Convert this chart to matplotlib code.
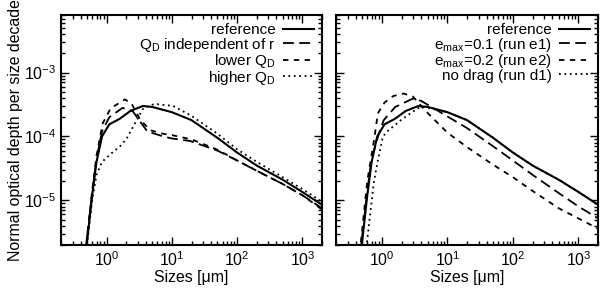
import numpy as np
import matplotlib
matplotlib.use("Agg")
import matplotlib.pyplot as plt

plt.rcParams['font.family'] = ['Liberation Sans', 'DejaVu Sans']
plt.rcParams['mathtext.fontset'] = 'custom'
plt.rcParams['mathtext.rm'] = 'Liberation Sans'
plt.rcParams['mathtext.it'] = 'Liberation Sans:italic'
plt.rcParams['font.size'] = 11.4

# ---- data: sizes [um], optical depth per size decade ----
ref_x = [0.48, 0.6, 0.7, 0.85, 1.1, 1.6, 2.3, 3.6, 5, 10, 20, 50, 100, 200, 500, 1000, 2000]
ref_y = [1.5e-6, 1.2e-5, 4e-5, 1.0e-4, 1.55e-4, 1.9e-4, 2.5e-4, 3.0e-4, 2.9e-4, 2.4e-4,
         1.8e-4, 9.5e-5, 5.6e-5, 3.5e-5, 2.1e-5, 1.35e-5, 8.5e-6]

qind_x = [0.47, 0.6, 0.7, 0.85, 1.1, 1.75, 2.5, 4.2, 7.4, 10, 19, 50, 100, 200, 500, 1000, 2000]
qind_y = [1.5e-6, 1.3e-5, 4.5e-5, 1.2e-4, 2.0e-4, 2.8e-4, 2.5e-4, 1.2e-4, 1.0e-4, 9.3e-5,
          8.5e-5, 6.0e-5, 4.2e-5, 2.9e-5, 1.8e-5, 1.2e-5, 7.5e-6]

qlow_x = [0.47, 0.6, 0.7, 0.87, 1.15, 1.9, 2.4, 3.3, 4.7, 7.4, 10, 20, 50, 100, 200, 500, 1000, 2000]
qlow_y = [1.5e-6, 1.4e-5, 5e-5, 1.6e-4, 2.75e-4, 3.8e-4, 3.3e-4, 1.8e-4, 1.25e-4, 1.1e-4,
          1.05e-4, 9.0e-5, 6.2e-5, 4.2e-5, 2.9e-5, 1.8e-5, 1.2e-5, 7.2e-6]

qhigh_x = [0.5, 0.6, 0.7, 0.85, 1.2, 1.6, 2.0, 2.8, 3.6, 5, 6, 10.5, 20, 50, 100, 200, 500, 1000, 2000]
qhigh_y = [2e-6, 1.0e-5, 2.5e-5, 4e-5, 5.5e-5, 7e-5, 9e-5, 1.7e-4, 2.7e-4, 3.15e-4, 3.2e-4,
           3.0e-4, 2.1e-4, 1.1e-4, 6.3e-5, 4.0e-5, 2.3e-5, 1.5e-5, 9.5e-6]

e1_x = [0.47, 0.6, 0.7, 0.9, 1.07, 1.6, 2.95, 4, 10.5, 20, 50, 100, 200, 500, 1000, 2000]
e1_y = [1.5e-6, 1.4e-5, 4.5e-5, 1.1e-4, 1.8e-4, 2.9e-4, 3.9e-4, 3.6e-4, 2.0e-4, 1.35e-4,
        7.0e-5, 4.2e-5, 2.5e-5, 1.3e-5, 8.0e-6, 5.2e-6]

e2_x = [0.46, 0.6, 0.76, 0.87, 1.1, 1.5, 2.15, 3, 4.5, 10, 20, 50, 100, 200, 500, 1000, 2000]
e2_y = [1.5e-6, 2.0e-5, 8.7e-5, 2.3e-4, 3.4e-4, 4.3e-4, 4.7e-4, 4.2e-4, 2.6e-4, 1.15e-4,
        6.8e-5, 3.6e-5, 2.3e-5, 1.4e-5, 7.5e-6, 5.2e-6, 3.6e-6]

d1_x = [0.57, 0.63, 0.76, 0.87, 1.03, 1.15, 1.95, 3.5, 4.4, 10, 20, 50, 100, 200, 500, 1000, 2000]
d1_y = [1.5e-6, 3.8e-6, 2e-5, 4.2e-5, 9.6e-5, 1.15e-4, 1.8e-4, 2.75e-4, 2.9e-4, 2.4e-4,
        1.8e-4, 9.5e-5, 5.6e-5, 3.5e-5, 2.1e-5, 1.35e-5, 8.5e-6]

left_labels = ['reference', r'Q$_\mathrm{D}$ independent of r',
               r'lower Q$_\mathrm{D}$', r'higher Q$_\mathrm{D}$']
right_labels = ['reference', r'e$_\mathrm{max}$=0.1 (run e1)',
                r'e$_\mathrm{max}$=0.2 (run e2)', 'no drag (run d1)']

styles = [dict(ls='-', lw=1.5),
          dict(ls=(0, (6, 3)), lw=1.3),
          dict(ls=(0, (3, 3)), lw=1.3),
          dict(ls=(0, (1, 2)), lw=1.3)]

fig = plt.figure(figsize=(6.0, 2.93), dpi=100)
ax1 = fig.add_axes([0.1017, 0.164, 0.435, 0.785])
ax2 = fig.add_axes([0.56, 0.164, 0.437, 0.785])

left_data = [(ref_x, ref_y), (qind_x, qind_y), (qlow_x, qlow_y), (qhigh_x, qhigh_y)]
right_data = [(ref_x, ref_y), (e1_x, e1_y), (e2_x, e2_y), (d1_x, d1_y)]

for ax, data, labels in [(ax1, left_data, left_labels), (ax2, right_data, right_labels)]:
    for (x, y), lab, st in zip(data, labels, styles):
        ax.plot(x, y, color='black', label=lab, **st)
    ax.set_xscale('log')
    ax.set_yscale('log')
    ax.set_xlim(0.2, 2000)
    ax.set_ylim(2e-6, 8e-3)
    ax.tick_params(which='both', direction='in', top=True, right=True, width=1)
    ax.tick_params(which='major', length=6)
    ax.tick_params(which='minor', length=3)
    for sp in ax.spines.values():
        sp.set_linewidth(1.5)
    ax.set_xlabel('Sizes [μm]', labelpad=1)
    ax.legend(loc='upper right', frameon=False, markerfirst=False, fontsize=11,
              handlelength=2.0, labelspacing=-0.1, borderaxespad=0.25,
              handletextpad=0.5, borderpad=0.3)

ax1.set_ylabel('Normal optical depth per size decade', labelpad=1)
ax2.tick_params(labelleft=False)

fig.savefig('out.png', dpi=100)
